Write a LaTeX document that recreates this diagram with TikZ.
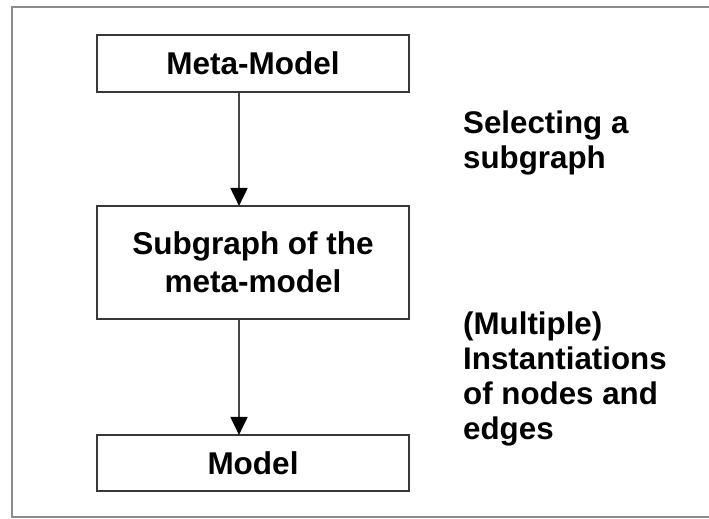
\documentclass[tikz,border=0pt]{standalone}
\usepackage{fontspec}
\setmainfont{Liberation Sans}
\usetikzlibrary{arrows.meta}
\begin{document}
\begin{tikzpicture}[x=1pt,y=-1pt,
  box/.style={draw=black!78,line width=2.2pt,inner sep=0pt,minimum width=312pt,
    font=\fontsize{31.5}{38}\selectfont\bfseries,align=center},
  lbl/.style={inner sep=0pt,anchor=north west,align=left,
    font=\fontsize{31.3}{35}\selectfont\bfseries},
  conn/.style={draw=black!72,line width=2pt,-{Triangle[length=18pt,width=17pt,color=black]},shorten >=-1pt}]
\useasboundingbox (0,0) rectangle (709,519);
\clip (0,0) rectangle (709,519);
\draw[black!45,line width=2pt] (12,7) rectangle (715,517);
\node[box,minimum height=57pt] (meta) at (253,63.5) {Meta-Model};
\node[box,minimum height=113pt] (sub) at (253,262.5) {Subgraph of the\\meta-model};
\node[box,minimum height=56pt] (model) at (253,463) {Model};
\draw[conn] ([xshift=-14pt]meta.south) -- ([xshift=-14pt]sub.north);
\draw[conn] ([xshift=-14pt]sub.south) -- ([xshift=-14pt]model.north);
\node[lbl] (sel) at (463,111) {Selecting a\\subgraph};
\node[lbl] (inst) at (463,312) {(Multiple)\\Instantiations\\of nodes and\\edges};
\end{tikzpicture}
\end{document}
